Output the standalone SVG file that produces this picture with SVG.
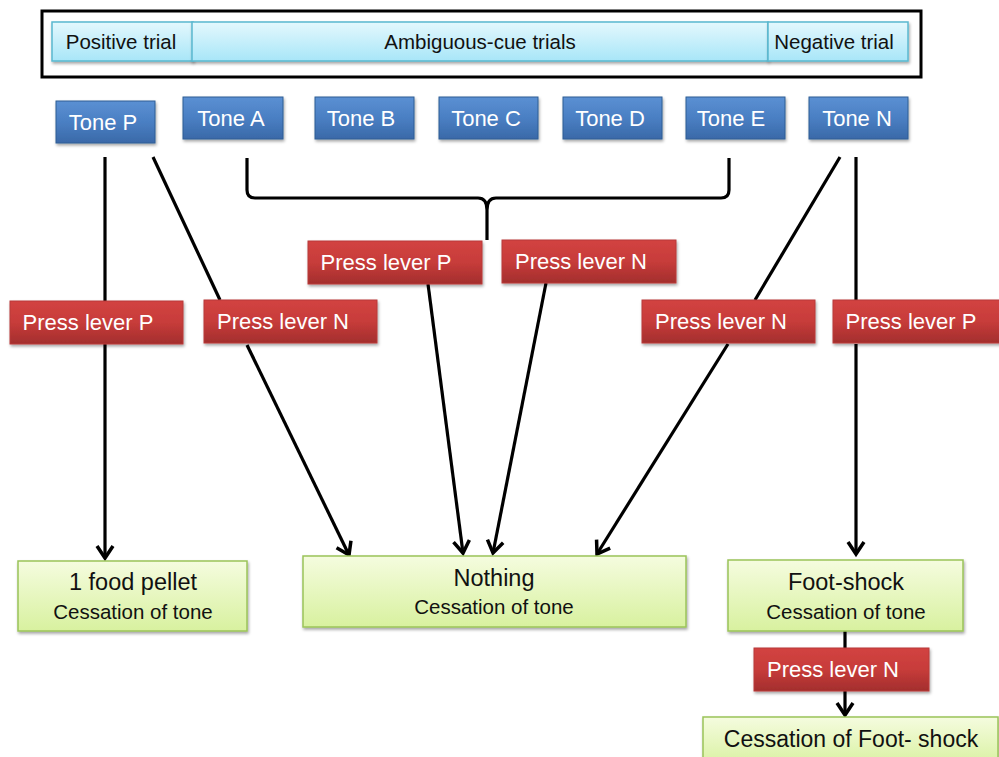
<svg xmlns="http://www.w3.org/2000/svg" width="999" height="757" viewBox="0 0 999 757">
<defs>
<linearGradient id="gBlue" x1="0" y1="0" x2="0" y2="1"><stop offset="0" stop-color="#5b90d3"/><stop offset="0.5" stop-color="#4a7fc3"/><stop offset="1" stop-color="#3a69a8"/></linearGradient>
<linearGradient id="gRed" x1="0" y1="0" x2="0" y2="1"><stop offset="0" stop-color="#d24341"/><stop offset="0.5" stop-color="#c73c3a"/><stop offset="1" stop-color="#a32e2d"/></linearGradient>
<linearGradient id="gGreen" x1="0" y1="0" x2="0" y2="1"><stop offset="0" stop-color="#f5fcdf"/><stop offset="1" stop-color="#d8f19f"/></linearGradient>
<linearGradient id="gCyan" x1="0" y1="0" x2="0" y2="1"><stop offset="0" stop-color="#e4f8fd"/><stop offset="1" stop-color="#a8e6f8"/></linearGradient>
<filter id="sh" x="-10%" y="-20%" width="120%" height="150%"><feDropShadow dx="1" dy="2" stdDeviation="1.5" flood-color="#000" flood-opacity="0.35"/></filter>
<marker id="arr" markerWidth="20" markerHeight="20" refX="15" refY="10" orient="auto" markerUnits="userSpaceOnUse"><path d="M3,2 L15,10 L3,18" fill="none" stroke="#000" stroke-width="3.5" stroke-linejoin="miter"/></marker>
</defs>
<style>
.tone{fill:url(#gBlue);stroke:#2f5c94;stroke-width:1;filter:url(#sh)}
.lever{fill:url(#gRed);stroke:#b83a38;stroke-width:1;filter:url(#sh)}
.res{fill:url(#gGreen);stroke:#9bc35a;stroke-width:1.5;filter:url(#sh)}
.trial{fill:url(#gCyan);stroke:#5ab8cf;stroke-width:1.5;filter:url(#sh)}
.wt{font-family:"Liberation Sans",Arial,sans-serif;fill:#fff;font-size:22px;text-anchor:middle}
.bt{font-family:"Liberation Sans",Arial,sans-serif;fill:#111;text-anchor:middle}
.ln{fill:none;stroke:#000;stroke-width:3.2}
</style>
<rect width="999" height="757" fill="#fff"/>
<g id="header">
<rect x="42" y="11" width="879" height="66" fill="#fff" stroke="#000" stroke-width="3"/>
<g id="positive-trial"><rect class="trial" x="52" y="22" width="141" height="39"/><text class="bt" x="121" y="49" font-size="20.5">Positive trial</text></g>
<g id="ambiguous-trials"><rect class="trial" x="192" y="22" width="576" height="39"/><text class="bt" x="480" y="49" font-size="20.5">Ambiguous-cue trials</text></g>
<g id="negative-trial"><rect class="trial" x="768" y="22" width="140" height="39"/><text class="bt" x="834" y="49" font-size="20.5">Negative trial</text></g>
</g>
<g id="tone-p"><rect class="tone" x="56" y="101" width="99" height="42"/><text class="wt" x="103" y="130">Tone P</text></g>
<g id="tone-a"><rect class="tone" x="183" y="97" width="100" height="42"/><text class="wt" x="231" y="126">Tone A</text></g>
<g id="tone-b"><rect class="tone" x="315" y="97" width="99" height="42"/><text class="wt" x="361" y="126">Tone B</text></g>
<g id="tone-c"><rect class="tone" x="439" y="97" width="99" height="42"/><text class="wt" x="486" y="126">Tone C</text></g>
<g id="tone-d"><rect class="tone" x="563" y="97" width="99" height="42"/><text class="wt" x="610" y="126">Tone D</text></g>
<g id="tone-e"><rect class="tone" x="686" y="97" width="99" height="42"/><text class="wt" x="731" y="126">Tone E</text></g>
<g id="tone-n"><rect class="tone" x="809" y="97" width="99" height="42"/><text class="wt" x="857" y="126">Tone N</text></g>
<g id="connectors">
<path class="ln" d="M247,158 L247,190 Q247,198 255,198 L478,198 Q487,198 487,210 L487,240 M487,210 Q487,198 496,198 L721,198 Q729,198 729,190 L729,158"/>
<line class="ln" x1="105" y1="157" x2="105" y2="301"/>
<line class="ln" x1="105" y1="344" x2="105" y2="558" marker-end="url(#arr)"/>
<line class="ln" x1="153" y1="157" x2="220" y2="300"/>
<line class="ln" x1="247" y1="345" x2="349" y2="555" marker-end="url(#arr)"/>
<line class="ln" x1="428" y1="284" x2="463" y2="553" marker-end="url(#arr)"/>
<line class="ln" x1="546" y1="283" x2="493" y2="553" marker-end="url(#arr)"/>
<line class="ln" x1="840" y1="157" x2="755" y2="300"/>
<line class="ln" x1="728" y1="344" x2="597" y2="554" marker-end="url(#arr)"/>
<line class="ln" x1="856" y1="157" x2="856" y2="300"/>
<line class="ln" x1="856" y1="344" x2="856" y2="554" marker-end="url(#arr)"/>
<line class="ln" x1="845" y1="631" x2="845" y2="648"/>
<line class="ln" x1="845" y1="691" x2="845" y2="715" marker-end="url(#arr)"/>
</g>
<g id="lever-p-mid"><rect class="lever" x="308" y="241" width="174" height="43"/><text class="wt" x="386" y="270">Press lever P</text></g>
<g id="lever-n-mid"><rect class="lever" x="502" y="240" width="174" height="43"/><text class="wt" x="581" y="269">Press lever N</text></g>
<g id="lever-p-left"><rect class="lever" x="10" y="301" width="173" height="43"/><text class="wt" x="88" y="330">Press lever P</text></g>
<g id="lever-n-left"><rect class="lever" x="204" y="300" width="173" height="43"/><text class="wt" x="283" y="329">Press lever N</text></g>
<g id="lever-n-right"><rect class="lever" x="642" y="300" width="173" height="43"/><text class="wt" x="721" y="329">Press lever N</text></g>
<g id="lever-p-right"><rect class="lever" x="833" y="300" width="170" height="43"/><text class="wt" x="911" y="329">Press lever P</text></g>
<g id="food-pellet"><rect class="res" x="18" y="561" width="229" height="70"/><text class="bt" x="133" y="590" font-size="23.5">1 food pellet</text><text class="bt" x="133" y="619" font-size="20.5">Cessation of tone</text></g>
<g id="nothing"><rect class="res" x="303" y="556" width="383" height="71"/><text class="bt" x="494" y="586" font-size="23.5">Nothing</text><text class="bt" x="494" y="614" font-size="20.5">Cessation of tone</text></g>
<g id="foot-shock"><rect class="res" x="728" y="560" width="235" height="71"/><text class="bt" x="846" y="590" font-size="23.5">Foot-shock</text><text class="bt" x="846" y="619" font-size="20.5">Cessation of tone</text></g>
<g id="lever-n-bottom"><rect class="lever" x="754" y="648" width="175" height="43"/><text class="wt" x="833" y="677">Press lever N</text></g>
<g id="cessation-foot-shock"><rect class="res" x="703" y="717" width="295" height="50"/><text class="bt" x="851" y="747" font-size="23">Cessation of Foot- shock</text></g>
</svg>
